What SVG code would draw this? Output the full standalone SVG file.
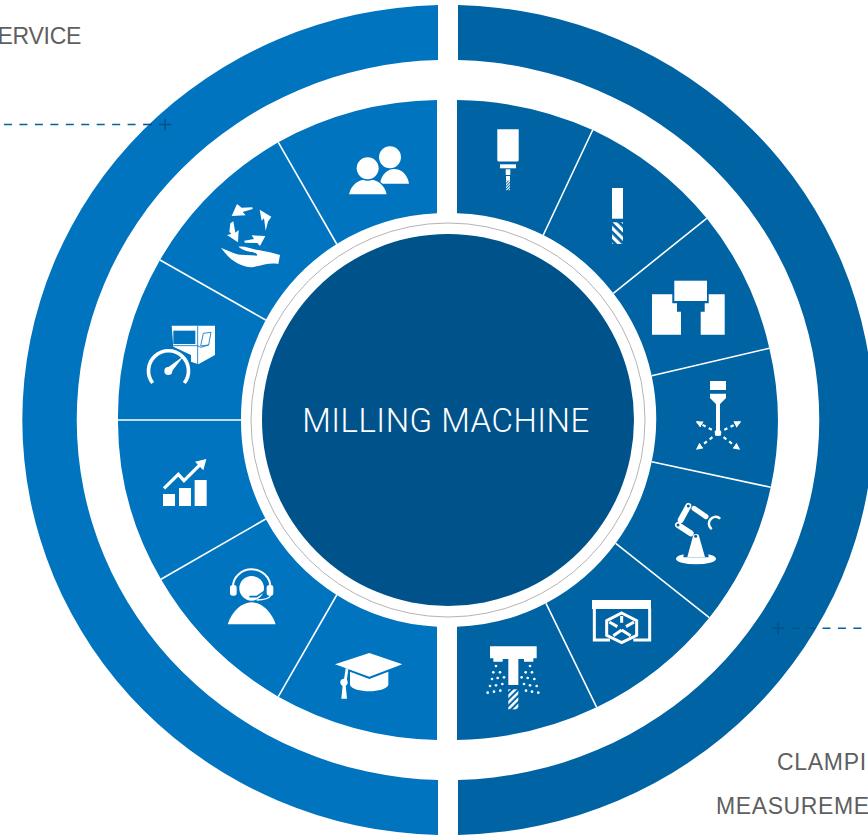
<svg xmlns="http://www.w3.org/2000/svg" width="868" height="839" viewBox="0 0 868 839">
<style>
.l{fill:#0074bf}.r{fill:#0063a3}
.w{fill:#fff}.s{fill:none;stroke:#fff}
.d{stroke:#fff;stroke-width:1.6;fill:none}
.t{font-family:"Liberation Sans",Arial,sans-serif;font-size:23px;fill:#5f5f5f}
.dash{fill:none;stroke-width:1.6;stroke-dasharray:8 7.45}
</style>
<defs>
<pattern id="hatch" width="6" height="6" patternUnits="userSpaceOnUse" patternTransform="rotate(-45)"><rect width="3.2" height="6" fill="#fff"/></pattern>
<pattern id="hatch2" width="4.500" height="4.500" patternUnits="userSpaceOnUse" patternTransform="rotate(45)"><rect width="2.500" height="4.500" fill="#fff"/></pattern>
<pattern id="fine" width="2" height="2" patternUnits="userSpaceOnUse" patternTransform="rotate(45)"><rect width="1.1" height="2" fill="#fff"/></pattern>
<marker id="ah" viewBox="0 0 10 10" refX="8" refY="5" markerWidth="3.200" markerHeight="3.200" orient="auto"><path d="M0 0L10 5L0 10z" fill="#fff"/></marker>
</defs>
<rect width="868" height="839" fill="#fff"/>
<g id="ring-left"><path class="l" d="M438 5.1A425 415 0 0 0 438 834.9L438 779.9A370 360 0 0 1 438 60.1Z"/></g>
<g id="ring-right"><path class="r" d="M458 5.1A425 415 0 0 1 458 834.9L458 779.9A370 360 0 0 0 458 60.1Z"/></g>

<g id="seg-spindle"><path class="r" d="M457 213.2L457 100.1A330 320 0 0 1 592.7 130L543.3 235A207 207 0 0 0 457 213.2Z"/>
<g class="w"><path d="M497.3 129.3H518.7V160a1.5 1.5 0 0 1-1.5 1.5H498.800a1.500 1.500 0 0 1-1.500-1.500Z"/><rect x="500" y="164.300" width="16" height="4"/><rect x="505.700" y="169.300" width="4.600" height="5.700"/><rect x="506" y="176" width="4" height="4.700"/></g><rect x="506" y="180.700" width="4" height="9.500" fill="url(#fine)"/></g>

<g id="seg-endmill"><path class="r" d="M543.3 235L592.7 130A330 320 0 0 1 706.7 218.300L613.300 293.300A207 207 0 0 0 543.300 235Z"/>
<rect class="w" x="612" y="188" width="11" height="30.700"/><rect x="612" y="222.300" width="11" height="21.700" fill="url(#hatch)"/></g>

<g id="seg-clamp"><path class="r" d="M613.300 293.300L706.700 218.300A330 320 0 0 1 769.300 348.300L651.700 375.700A207 207 0 0 0 613.300 293.300Z"/>
<path class="w" d="M652 294.300H672.300V303.300H677V311.700H681V334.700H652Z"/><path class="w" d="M724.700 294.300H708.700V303.300H704.700V311.700H700.700V334.700H724.700Z"/><rect class="w" x="674.300" y="280.700" width="32.700" height="20.300"/></g>

<g id="seg-laser"><path class="r" d="M651.700 375.700L769.300 348.300A330 320 0 0 1 770.700 487.300L651.700 461.700A207 207 0 0 0 651.700 375.700Z"/>
<rect class="w" x="710" y="381" width="16" height="9"/><path class="w" d="M710 393.700H726V398L720 404V432H716V404L710 398Z"/><circle class="w" cx="718" cy="433" r="3"/>
<g class="s" stroke-width="2.200" stroke-dasharray="3.500 3.500"><path d="M718 433L697 422" marker-end="url(#ah)"/><path d="M718 433L740 422" marker-end="url(#ah)"/><path d="M718 433L697 449" marker-end="url(#ah)"/><path d="M718 433L739 449" marker-end="url(#ah)"/></g></g>

<g id="seg-robot"><path class="r" d="M651.700 461.700L770.700 487.300A330 320 0 0 1 709.300 617.700L615.700 543.300A207 207 0 0 0 651.700 461.700Z"/>
<g transform="translate(440 420) scale(.33333)"><ellipse class="w" cx="768" cy="416" rx="60" ry="17"/><path class="r" d="M732 396H804L806 412H730Z"/><path class="w" d="M742 411L758 352A10 10 0 0 1 778 352L795 411Z"/>
<g class="s" stroke-linecap="round"><path d="M714 315L752 340" stroke-width="18"/><path d="M745 258L722 300" stroke-width="18"/><path d="M762 265L798 290" stroke-width="15"/><path d="M838 294A20 20 0 0 0 813 325" stroke-width="8"/></g>
<g class="r"><circle cx="714" cy="315" r="4.500"/><circle cx="745" cy="258" r="4.500"/><circle cx="767" cy="349" r="4.500"/></g></g></g>

<g id="seg-cube"><path class="r" d="M615.700 543.300L709.300 617.700A330 320 0 0 1 596.700 707.300L546 603.300A207 207 0 0 0 615.700 543.300Z"/>
<g transform="translate(440 420) scale(.33333)"><rect class="w" x="456" y="540" width="177" height="27"/><g class="s" stroke-width="9"><path d="M463 565V660H510M580 660H629V565"/><path d="M545 579L590 602V646L545 668L500 646V602Z"/><path d="M545 588V608M545 630L520 647M545 630L572 647M508 606L532 620M582 606L558 620"/></g></g></g>

<g id="seg-coolant"><path class="r" d="M546 603.300L596.700 707.300A330 320 0 0 1 457 739.900V626.800A207 207 0 0 0 546 603.300Z"/>
<rect x="508.300" y="689.300" width="10" height="20" fill="url(#hatch2)"/>
<g transform="translate(440 420) scale(.33333)"><path class="w" d="M150 679H290V715H280V725H252V717H235V795H205V717H188V725H160V715H150Z"/>
<g class="w"><circle cx="168" cy="738" r="4"/><circle cx="160" cy="757" r="4"/><circle cx="180" cy="757" r="4"/><circle cx="156" cy="777" r="4"/><circle cx="173" cy="774" r="4"/><circle cx="192" cy="772" r="4"/><circle cx="150" cy="798" r="4"/><circle cx="168" cy="796" r="4"/><circle cx="187" cy="792" r="4"/><circle cx="143" cy="818" r="4"/><circle cx="162" cy="815" r="4"/><circle cx="181" cy="812" r="4"/><circle cx="270" cy="738" r="4"/><circle cx="257" cy="757" r="4"/><circle cx="276" cy="757" r="4"/><circle cx="245" cy="772" r="4"/><circle cx="263" cy="774" r="4"/><circle cx="283" cy="777" r="4"/><circle cx="252" cy="792" r="4"/><circle cx="270" cy="796" r="4"/><circle cx="290" cy="798" r="4"/><circle cx="258" cy="812" r="4"/><circle cx="276" cy="815" r="4"/><circle cx="295" cy="818" r="4"/></g></g></g>

<g id="seg-people"><path class="l" d="M437 213.300V100.100A330 320 0 0 0 278.300 142.300L336.700 244A207 207 0 0 1 437 213.300Z"/>
<g transform="translate(110 90) scale(.33333)"><circle class="w" cx="840" cy="202" r="33"/><path class="w" d="M810 281C815 250 835 237 852 237C875 237 893 255 897 281Z"/><path class="w" d="M717 313C723 285 745 268 773 268C802 268 824 285 830 313Z" stroke="#0074bf" stroke-width="8" paint-order="stroke"/><circle class="w" cx="773" cy="235" r="33" stroke="#0074bf" stroke-width="8" paint-order="stroke"/></g></g>

<g id="seg-cycle"><path class="l" d="M336.700 244L278.300 142.300A330 320 0 0 0 160 260L265.700 320A207 207 0 0 1 336.700 244Z"/>
<g class="w" transform="translate(110 90) scale(.33333)"><path d="M381 342L365 378L407 376L398 366L428 357L427 352L395 353Z"/><path d="M484 380L449 359L455 392L462 385L467 422L474 395Z"/><path d="M466 438L425 436L432 447L403 452L404 458L442 459L450 468Z"/><path d="M351 435L384 457L386 420L376 428L370 394L361 400L358 425L364 432Z"/><path d="M333 473C355 482 372 492 392 494L440 497C446 492 432 486 420 485C405 483 392 476 385 470C405 466 425 478 445 480L480 487L510 495L505 522C480 517 460 525 425 532C385 530 355 505 333 473Z"/></g></g>

<g id="seg-gauge"><path class="l" d="M265.700 320L160 260A330 320 0 0 0 118 420H241A207 207 0 0 1 265.700 320Z"/>
<g transform="translate(110 90) scale(.33333)"><path class="w" d="M185 707H315V795L265 823L243 815V795L190 770Z"/><path class="l" d="M190 722H256V762H190Z"/><g fill="none" stroke="#0074bf" stroke-width="2.500"><path d="M263 708V822"/><path d="M190 767H263L272 772L296 765"/><path d="M272 768L280 730L303 727L296 765Z"/></g>
<path fill="none" stroke="#0074bf" stroke-width="19" d="M128 879A60 60 0 1 1 223 879"/><path class="s" stroke-width="11" d="M128 879A60 60 0 1 1 223 879"/><path class="w" d="M222 797L180 851L167 837Z"/><circle class="w" cx="175" cy="843" r="12"/></g></g>

<g id="seg-chart"><path class="l" d="M241 420H118A330 320 0 0 0 161 579.300L265.700 519A207 207 0 0 1 241 420Z"/>
<g transform="translate(110 420) scale(.33333)"><g class="w"><rect x="159" y="222" width="36" height="36"/><rect x="207" y="204" width="36" height="54"/><rect x="254" y="180" width="36" height="78"/><path d="M289 117L255 125L280 151Z"/></g><path class="s" stroke-width="10" d="M162 205L205 163L222 182L268 136"/></g></g>

<g id="seg-support"><path class="l" d="M265.700 519L161 579.300A330 320 0 0 0 278.300 696.700L336.700 595A207 207 0 0 1 265.700 519Z"/>
<g transform="translate(110 420) scale(.33333)"><circle class="w" cx="425" cy="505" r="37"/><path class="s" stroke-width="6" d="M369 500A56 52 0 0 1 481 500"/><rect class="w" x="360" y="495" width="20" height="32" rx="8"/><rect class="w" x="470" y="495" width="20" height="32" rx="8"/><path class="w" d="M353 613C365 575 395 547 425 547C455 547 485 575 497 613Z"/><path class="s" stroke-width="4" d="M483 525C478 535 465 540 440 540"/><path fill="none" stroke="#0074bf" stroke-width="5" stroke-linecap="round" d="M420 530H440L462 515"/></g></g>

<g id="seg-training"><path class="l" d="M336.700 595L278.300 696.700A330 320 0 0 0 437 739.900V626.700A207 207 0 0 1 336.700 595Z"/>
<g class="w" transform="translate(110 420) scale(.33333)"><path d="M778 699L877 733L778 770L675 733Z"/><path d="M720 755L778 777L835 755V795C825 820 730 820 720 795Z"/><path d="M707 745L715 747L709 792H700Z"/><circle cx="702" cy="787" r="11"/><path d="M698 795H707L711 836H694Z"/></g></g>

<g id="dividers"><path class="d" d="M543.300 235L592.700 130M613.300 293.300L706.700 218.300M651.700 375.700L769.300 348.300M651.700 461.700L770.700 487.300M615.700 543.300L709.300 617.700M546 603.300L596.700 707.300M336.700 244L278.300 142.300M265.700 320L160 260M241 420H118M265.700 519L161 579.300M336.700 595L278.300 696.700"/></g>

<g id="hub"><circle cx="448" cy="420" r="197" fill="#fff" stroke="#b4b4b4" stroke-width="1"/><circle cx="448" cy="420" r="186" fill="#00528a"/>
<text x="446" y="431.500" text-anchor="middle" font-family="Roboto,'Liberation Sans',sans-serif" font-weight="300" font-size="33" letter-spacing=".5" fill="#fff">MILLING MACHINE</text></g>

<g id="connectors"><path class="dash" stroke="#0063a3" d="M4 124.500H144"/><path class="dash" stroke="#00528a" d="M144 124.500H153"/><path fill="none" stroke="#00528a" stroke-width="1.600" d="M159 124.500H171M165 118.500V130.500"/>
<path class="dash" stroke="#0063a3" d="M822.500 628.300H868"/><path fill="none" stroke="#00528a" stroke-width="1.600" stroke-dasharray="8 7.450" d="M791.700 628.300H816"/><path fill="none" stroke="#00528a" stroke-width="1.600" d="M772 628.300H784M778 622.300V634.300"/></g>

<g id="labels"><text class="t" x="81" y="44" text-anchor="end" letter-spacing="-.3">ERVICE</text><text class="t" x="777" y="770" letter-spacing=".7">CLAMPI</text><text class="t" x="716" y="814" letter-spacing=".6">MEASUREME</text></g>
</svg>
